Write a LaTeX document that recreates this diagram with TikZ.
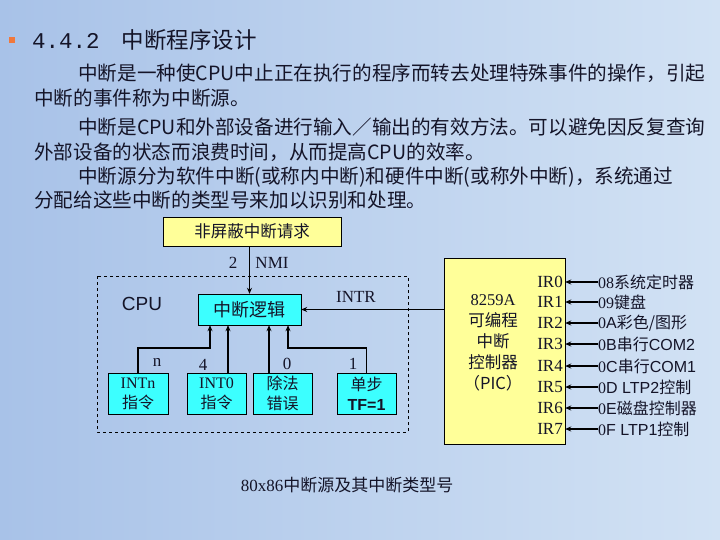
\documentclass[tikz,border=0pt]{standalone}
\usepackage{fontspec}
\setmainfont{Noto Sans CJK SC}
\newfontfamily\lsans{Liberation Sans}
\newfontfamily\lserif{Liberation Serif}
\newfontfamily\lmono{Liberation Mono}
\usetikzlibrary{arrows.meta}
\definecolor{bgl}{RGB}{168,194,232}
\definecolor{bgr}{RGB}{210,226,244}
\definecolor{ybox}{RGB}{255,255,153}
\definecolor{cbox}{RGB}{60,255,255}
\definecolor{txt}{RGB}{20,20,40}
\definecolor{bul}{RGB}{240,120,60}
\begin{document}
\begin{tikzpicture}[x=1pt,y=-1pt,
  body/.style={anchor=west,inner sep=0pt,text=txt,font=\fontsize{19.6}{22}\selectfont},
  yboxs/.style={draw=black,fill=ybox,inner sep=0pt,text=txt},
  cboxs/.style={draw=black,fill=cbox,inner sep=0pt,text=txt,font=\fontsize{16}{20}\selectfont,align=center},
  conn/.style={line width=1.8pt,-{Stealth[length=6pt,width=5pt]}},
  lab/.style={inner sep=0pt,text=txt,font=\lserif\fontsize{17}{20}\selectfont},
  irl/.style={inner sep=0pt,text=txt,anchor=east,font=\lserif\fontsize{17}{20}\selectfont},
  dev/.style={inner sep=0pt,text=txt,anchor=west,font=\fontsize{16}{18}\selectfont}
]
\useasboundingbox (0,0) rectangle (720,540);
\shade[left color=bgl,right color=bgr] (0,0) rectangle (720,540);
% title
\fill[bul] (9,37) rectangle (15,43);
\node[body,font=\fontsize{22.5}{26}\selectfont] (title) at (32,40) {{\lmono 4.4.2}\hspace{22pt}中断程序设计};
\node[body] (l1) at (78,73) {中断是一种使CPU中止正在执行的程序而转去处理特殊事件的操作，引起};
\node[body] (l2) at (34,98) {中断的事件称为中断源。};
\node[body] (l3) at (78,127) {中断是CPU和外部设备进行输入／输出的有效方法。可以避免因反复查询};
\node[body] (l4) at (34,152) {外部设备的状态而浪费时间，从而提高CPU的效率。};
\node[body] (l5) at (78,177) {中断源分为软件中断(或称内中断)和硬件中断(或称外中断)，系统通过};
\node[body] (l6) at (34,200) {分配给这些中断的类型号来加以识别和处理。};
% diagram
\node[yboxs,minimum width=178,minimum height=29,font=\fontsize{16.5}{20}\selectfont] (nmi) at (252,231.5) {非屏蔽中断请求};
\draw[dashed,line width=0.8pt] (97,276) rectangle (408,432);
\node[inner sep=0pt,font=\lsans\fontsize{19}{22}\selectfont,text=txt] (cpu) at (142,304) {CPU};
\node[cboxs,minimum width=103,minimum height=31,font=\fontsize{18}{22}\selectfont] (logic) at (249.5,309.5) {中断逻辑};
\node[cboxs,minimum width=60,minimum height=41] (intn) at (138,393.5) {\lserif INTn\\指令};
\node[cboxs,minimum width=59,minimum height=41] (int0) at (216.5,393.5) {\lserif INT0\\指令};
\node[cboxs,minimum width=59,minimum height=41] (div) at (282.5,393.5) {除法\\错误};
\node[cboxs,minimum width=59,minimum height=41] (step1) at (366.5,393.5) {单步\\{\lsans\bfseries TF=1}};
\node[yboxs,minimum width=121,minimum height=186] (pic) at (504.5,351) {};
\node[inner sep=0pt,text=txt,align=center,font=\fontsize{16.5}{21}\selectfont] (pictxt) at (493,343) {{\lserif 8259A}\\可编程\\中断\\控制器\\（PIC）};
% connectors
\draw[conn] (nmi.south -| logic.north) -- (logic.north);
\node[lab] (l2lab) at (233,263) {2};
\node[lab] (nmilab) at (272,263) {NMI};
\draw[conn] (logic.east -| pic.west) -- (logic.east);
\node[lab] (intrlab) at (356,297) {INTR};
\draw[conn] (intn.north) -- ++(0,-25) -| ([xshift=-39.5pt]logic.south);
\draw[conn] ([xshift=11.5pt]int0.north) -- ([xshift=-21.5pt]logic.south);
\draw[conn] ([xshift=-13.5pt]div.north) -- ([xshift=19.5pt]logic.south);
\draw[conn] (step1.north) -- ++(0,-25) -| ([xshift=38.5pt]logic.south);
\node[lab] (nlab) at (157,362) {n};
\node[lab] (n4lab) at (203,365) {4};
\node[lab] (n0lab) at (287,364) {0};
\node[lab] (n1lab) at (353,364) {1};
% IR lines
\foreach \i/\y/\t in {0/282/{{\lserif 08}系统定时器},1/302/{{\lserif 09}键盘},2/323/{{\lserif 0}{\lsans A}彩色/图形},3/344/{{\lserif 0}{\lsans B}串行{\lsans COM2}},4/366/{{\lserif 0}{\lsans C}串行{\lsans COM1}},5/387/{{\lserif 0}{\lsans D LTP2}控制},6/408/{{\lserif 0}{\lsans E}磁盘控制器},7/429/{{\lserif 0}{\lsans F LTP1}控制}}{
  \node[irl] (ir\i) at (563,\y) {IR\i};
  \node[dev] (dev\i) at (598,\y) {\t};
  \draw[conn,line width=1.5pt] (dev\i.west) -- (dev\i.west -| pic.east);
}
\node[inner sep=0pt,text=txt,font=\fontsize{17}{20}\selectfont] (cap) at (347,485) {\lserif 80x86\normalfont 中断源及其中断类型号};
\end{tikzpicture}
\end{document}
